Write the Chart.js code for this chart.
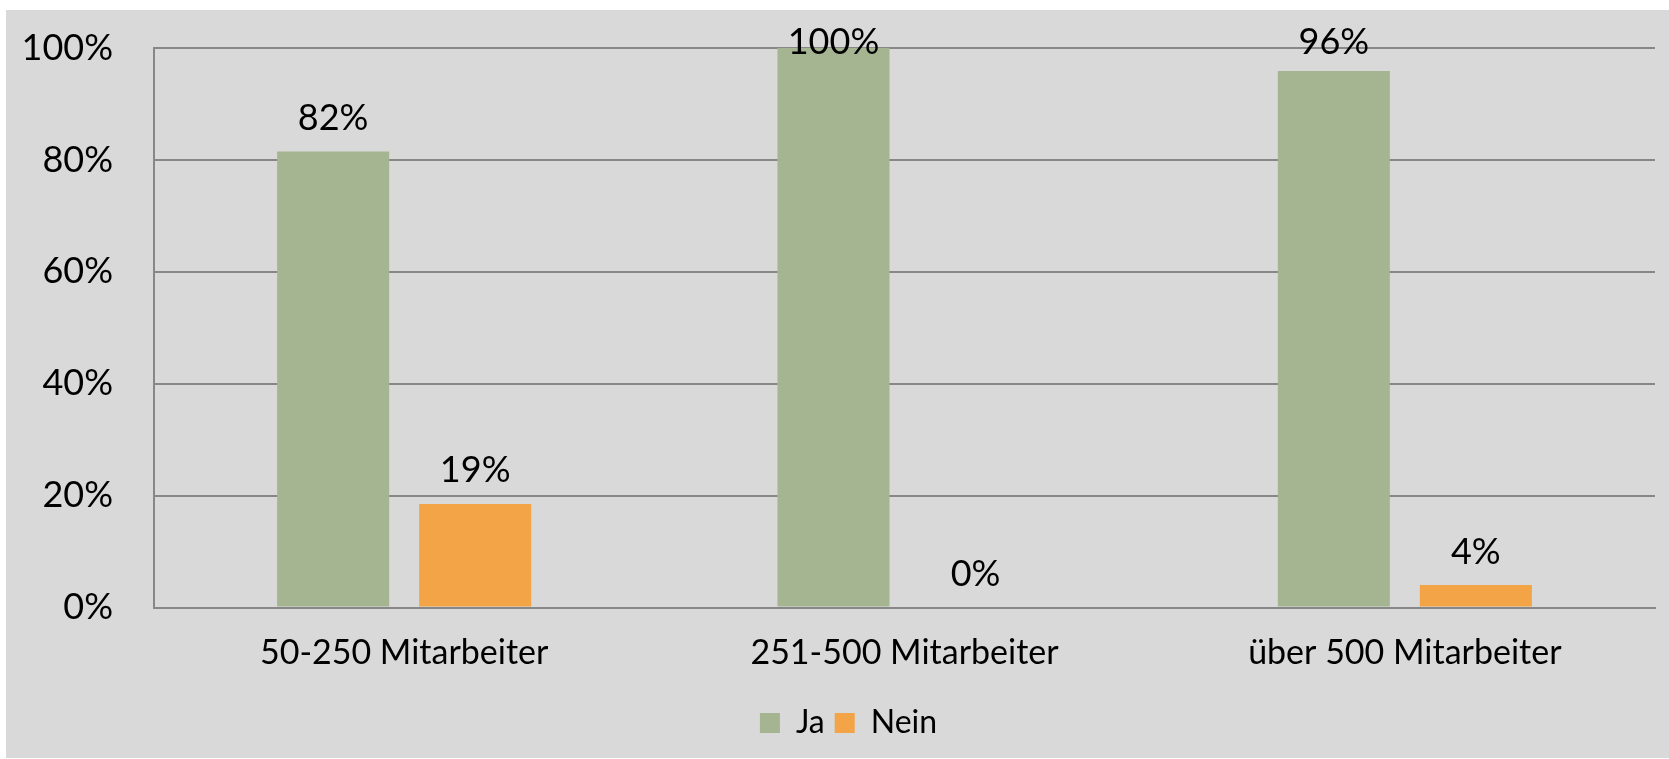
<!DOCTYPE html>
<html lang="de">
<head>
    <meta charset="UTF-8">
    <title>Mitarbeiter Ja / Nein</title>
    <script src="https://cdn.jsdelivr.net/npm/chart.js@4/dist/chart.umd.min.js"></script>
    <style>
        html, body { margin: 0; padding: 0; background: #ffffff; }
        #panel { position: absolute; left: 6px; top: 10px; width: 1663px; height: 748px; background: #d9d9d9; }
    </style>
</head>
<body>
    <div id="panel"><canvas id="chart" width="1663" height="748"></canvas></div>

    <script>
        const categories = ['50-250 Mitarbeiter', '251-500 Mitarbeiter', 'über 500 Mitarbeiter'];
        const jaValues = [81.5, 100, 95.9];
        const neinValues = [18.5, 0, 4];
        const yTicks = [0, 20, 40, 60, 80, 100];

        const fontFamily = 'Lato, "Open Sans", sans-serif';
        const gridColor = '#878787';

        // Werte über den Balken, oben an der Zeichenfläche begrenzt (wie in Excel)
        const valueLabels = {
            id: 'valueLabels',
            afterDatasetsDraw(chart) {
                const ctx = chart.ctx;
                const top = chart.chartArea.top;
                ctx.save();
                ctx.font = '36px ' + fontFamily;
                ctx.fillStyle = '#000000';
                ctx.textAlign = 'center';
                ctx.textBaseline = 'alphabetic';
                chart.data.datasets.forEach((ds, i) => {
                    chart.getDatasetMeta(i).data.forEach((bar, j) => {
                        const y = Math.max(bar.y - 21.5, top + 6);
                        ctx.fillText(Math.round(ds.data[j]) + '%', bar.x, y);
                    });
                });
                ctx.restore();
            }
        };

        // Legende etwas nach rechts, wie im Original
        const shiftLegend = {
            id: 'shiftLegend',
            afterLayout(chart) {
                chart.legend.left += 18;
                chart.legend.right += 18;
            }
        };

        new Chart(document.getElementById('chart'), {
            type: 'bar',
            data: {
                labels: categories,
                datasets: [{
                    label: 'Ja',
                    data: jaValues,
                    backgroundColor: '#a5b592',
                    categoryPercentage: 0.5677,
                    barPercentage: 0.789
                }, {
                    label: 'Nein',
                    data: neinValues,
                    backgroundColor: '#f2a447',
                    categoryPercentage: 0.5677,
                    barPercentage: 0.789
                }]
            },
            options: {
                responsive: false,
                animation: false,
                layout: { padding: { left: 0, right: 14, top: 38, bottom: 9 } },
                scales: {
                    x: {
                        grid: { display: false, drawTicks: false },
                        border: { display: true, color: gridColor, width: 2 },
                        ticks: { color: '#000000', padding: 25, font: { family: fontFamily, size: 34 } },
                        afterFit(scale) { scale.height = 89.5; }
                    },
                    y: {
                        min: 0,
                        max: 100,
                        afterBuildTicks(scale) { scale.ticks = yTicks.map(v => ({ value: v })); },
                        grid: { color: gridColor, lineWidth: 2, drawTicks: false },
                        border: { display: true, color: gridColor, width: 2 },
                        ticks: {
                            color: '#000000',
                            padding: 41,
                            font: { family: fontFamily, size: 36 },
                            callback: v => v + '%'
                        },
                        afterFit(scale) {
                            scale.width = 148;
                            scale.paddingTop = 0;
                            scale.paddingBottom = 0;
                        }
                    }
                },
                plugins: {
                    legend: {
                        position: 'bottom',
                        labels: {
                            color: '#000000',
                            boxWidth: 20,
                            boxHeight: 20,
                            padding: 10,
                            font: { family: fontFamily, size: 32 }
                        }
                    },
                    tooltip: { enabled: false }
                }
            },
            plugins: [valueLabels, shiftLegend]
        });
    </script>
</body>
</html>
